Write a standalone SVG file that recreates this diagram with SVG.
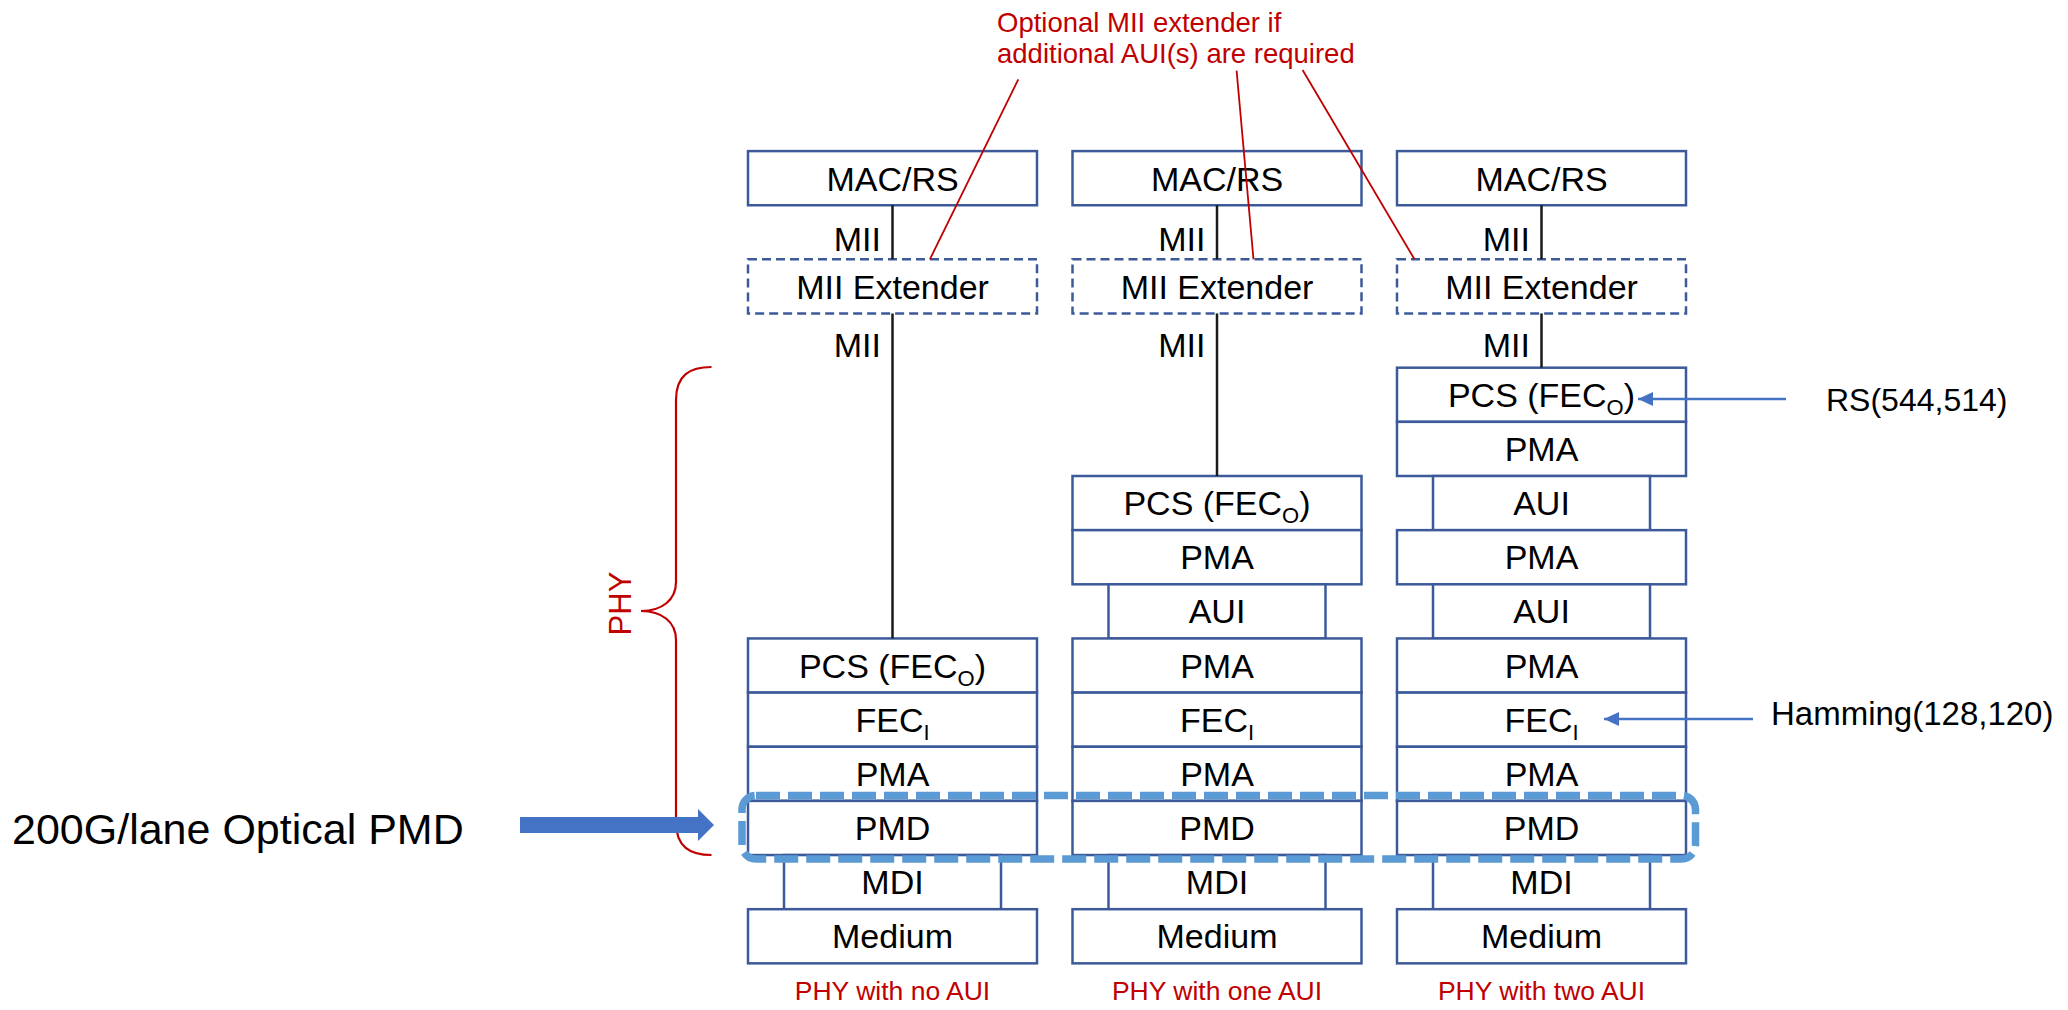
<svg xmlns="http://www.w3.org/2000/svg" width="2068" height="1010" viewBox="0 0 2068 1010">
<style>
.box{fill:#fff;stroke:#3C5A9A;stroke-width:2.5}
.dbox{fill:#fff;stroke:#3C5A9A;stroke-width:2.5;stroke-dasharray:9 5}
.t{font-family:"Liberation Sans",Arial,sans-serif;font-size:34px;text-anchor:middle;fill:#000}
.mii{font-family:"Liberation Sans",Arial,sans-serif;font-size:34px;text-anchor:end;fill:#000}
.sub{font-size:22px}
.red{font-family:"Liberation Sans",Arial,sans-serif;fill:#C00000}
.callout{font-size:27.5px}
.phy{font-size:31px;text-anchor:middle}
.cap{font-size:26.5px;text-anchor:middle}
.conn{stroke:#1a1a1a;stroke-width:2.5;fill:none}
.lead{stroke:#C00000;stroke-width:1.8;fill:none}
.barrow{stroke:#4472C4;stroke-width:2.5;fill:none;marker-end:url(#ah)}
.note{font-family:"Liberation Sans",Arial,sans-serif;fill:#000}
.big{font-size:43px}
.rs{font-size:32px}
.ham{font-size:33px}
</style>
<defs>
<marker id="ah" markerUnits="userSpaceOnUse" markerWidth="16" markerHeight="14" refX="15" refY="7" orient="auto">
<path d="M0,0 L15,7 L0,14 z" fill="#4472C4"/>
</marker>
</defs>

<g id="callout-text">
<text class="red callout" x="997" y="32">Optional MII extender if</text>
<text class="red callout" x="997" y="63">additional AUI(s) are required</text>
</g>

<g id="mii-labels">
<text class="mii" x="881" y="251">MII</text>
<text class="mii" x="881" y="357">MII</text>
<text class="mii" x="1205.5" y="251">MII</text>
<text class="mii" x="1205.5" y="357">MII</text>
<text class="mii" x="1530" y="251">MII</text>
<text class="mii" x="1530" y="357">MII</text>
</g>

<!-- Column 1: PHY with no AUI -->
<g id="c1-macrs"><rect class="box" x="748" y="151.1" width="289" height="54.15"/><text class="t" x="892.5" y="191.2">MAC/RS</text></g>
<g id="c1-miiext"><rect class="dbox" x="748" y="259.3" width="289" height="54.15"/><text class="t" x="892.5" y="299.4">MII Extender</text></g>
<g id="c1-pcs"><rect class="box" x="748" y="638.45" width="289" height="54.15"/><text class="t" x="892.5" y="677.5">PCS (FEC<tspan class="sub" dy="8">O</tspan><tspan dy="-8">)</tspan></text></g>
<g id="c1-feci"><rect class="box" x="748" y="692.6" width="289" height="54.15"/><text class="t" x="892.5" y="731.7">FEC<tspan class="sub" dy="8">I</tspan></text></g>
<g id="c1-pma"><rect class="box" x="748" y="746.75" width="289" height="54.15"/><text class="t" x="892.5" y="785.8">PMA</text></g>
<g id="c1-pmd"><rect class="box" x="748" y="800.9" width="289" height="54.15"/><text class="t" x="892.5" y="840">PMD</text></g>
<g id="c1-mdi"><rect class="box" x="784" y="855.05" width="217" height="54.15"/><text class="t" x="892.5" y="894.1">MDI</text></g>
<g id="c1-medium"><rect class="box" x="748" y="909.2" width="289" height="54.15"/><text class="t" x="892.5" y="948.3">Medium</text></g>
<text class="red cap" x="892.5" y="1000">PHY with no AUI</text>

<!-- Column 2: PHY with one AUI -->
<g id="c2-macrs"><rect class="box" x="1072.5" y="151.1" width="289" height="54.15"/><text class="t" x="1217" y="191.2">MAC/RS</text></g>
<g id="c2-miiext"><rect class="dbox" x="1072.5" y="259.3" width="289" height="54.15"/><text class="t" x="1217" y="299.4">MII Extender</text></g>
<g id="c2-pcs"><rect class="box" x="1072.5" y="476" width="289" height="54.15"/><text class="t" x="1217" y="515.1">PCS (FEC<tspan class="sub" dy="8">O</tspan><tspan dy="-8">)</tspan></text></g>
<g id="c2-pma1"><rect class="box" x="1072.5" y="530.15" width="289" height="54.15"/><text class="t" x="1217" y="569.2">PMA</text></g>
<g id="c2-aui"><rect class="box" x="1108.5" y="584.3" width="217" height="54.15"/><text class="t" x="1217" y="623.4">AUI</text></g>
<g id="c2-pma2"><rect class="box" x="1072.5" y="638.45" width="289" height="54.15"/><text class="t" x="1217" y="677.5">PMA</text></g>
<g id="c2-feci"><rect class="box" x="1072.5" y="692.6" width="289" height="54.15"/><text class="t" x="1217" y="731.7">FEC<tspan class="sub" dy="8">I</tspan></text></g>
<g id="c2-pma3"><rect class="box" x="1072.5" y="746.75" width="289" height="54.15"/><text class="t" x="1217" y="785.8">PMA</text></g>
<g id="c2-pmd"><rect class="box" x="1072.5" y="800.9" width="289" height="54.15"/><text class="t" x="1217" y="840">PMD</text></g>
<g id="c2-mdi"><rect class="box" x="1108.5" y="855.05" width="217" height="54.15"/><text class="t" x="1217" y="894.1">MDI</text></g>
<g id="c2-medium"><rect class="box" x="1072.5" y="909.2" width="289" height="54.15"/><text class="t" x="1217" y="948.3">Medium</text></g>
<text class="red cap" x="1217" y="1000">PHY with one AUI</text>

<!-- Column 3: PHY with two AUI -->
<g id="c3-macrs"><rect class="box" x="1397" y="151.1" width="289" height="54.15"/><text class="t" x="1541.5" y="191.2">MAC/RS</text></g>
<g id="c3-miiext"><rect class="dbox" x="1397" y="259.3" width="289" height="54.15"/><text class="t" x="1541.5" y="299.4">MII Extender</text></g>
<g id="c3-pcs"><rect class="box" x="1397" y="367.7" width="289" height="54.15"/><text class="t" x="1541.5" y="406.8">PCS (FEC<tspan class="sub" dy="8">O</tspan><tspan dy="-8">)</tspan></text></g>
<g id="c3-pma1"><rect class="box" x="1397" y="421.85" width="289" height="54.15"/><text class="t" x="1541.5" y="460.9">PMA</text></g>
<g id="c3-aui1"><rect class="box" x="1433" y="476" width="217" height="54.15"/><text class="t" x="1541.5" y="515.1">AUI</text></g>
<g id="c3-pma2"><rect class="box" x="1397" y="530.15" width="289" height="54.15"/><text class="t" x="1541.5" y="569.2">PMA</text></g>
<g id="c3-aui2"><rect class="box" x="1433" y="584.3" width="217" height="54.15"/><text class="t" x="1541.5" y="623.4">AUI</text></g>
<g id="c3-pma3"><rect class="box" x="1397" y="638.45" width="289" height="54.15"/><text class="t" x="1541.5" y="677.5">PMA</text></g>
<g id="c3-feci"><rect class="box" x="1397" y="692.6" width="289" height="54.15"/><text class="t" x="1541.5" y="731.7">FEC<tspan class="sub" dy="8">I</tspan></text></g>
<g id="c3-pma4"><rect class="box" x="1397" y="746.75" width="289" height="54.15"/><text class="t" x="1541.5" y="785.8">PMA</text></g>
<g id="c3-pmd"><rect class="box" x="1397" y="800.9" width="289" height="54.15"/><text class="t" x="1541.5" y="840">PMD</text></g>
<g id="c3-mdi"><rect class="box" x="1433" y="855.05" width="217" height="54.15"/><text class="t" x="1541.5" y="894.1">MDI</text></g>
<g id="c3-medium"><rect class="box" x="1397" y="909.2" width="289" height="54.15"/><text class="t" x="1541.5" y="948.3">Medium</text></g>
<text class="red cap" x="1541.5" y="1000">PHY with two AUI</text>

<g id="phy-brace">
<path d="M711.5,367 C690,367 676,375 676,400 L676,582 C676,600 662,611 641,611 C662,611 676,622 676,640 L676,822 C676,847 690,855 711.5,855" fill="none" stroke="#C00000" stroke-width="2.2"/>
<text class="red phy" transform="translate(631,603.5) rotate(-90)">PHY</text>
</g>

<g id="pmd-highlight">
<rect x="742" y="795.5" width="953.5" height="63.5" rx="14" fill="none" stroke="#5B9BD5" stroke-width="7.5" stroke-dasharray="24 8"/>
</g>

<g id="notes">
<text class="note big" x="12" y="843.6">200G/lane Optical PMD</text>
<text class="note rs" x="1826" y="410.7">RS(544,514)</text>
<text class="note ham" x="1771" y="725">Hamming(128,120)</text>
</g>

<g id="connectors">
<line class="conn" x1="892.5" y1="205.25" x2="892.5" y2="259.3"/>
<line class="conn" x1="892.5" y1="313.45" x2="892.5" y2="638.45"/>
<line class="conn" x1="1217" y1="205.25" x2="1217" y2="259.3"/>
<line class="conn" x1="1217" y1="313.45" x2="1217" y2="476"/>
<line class="conn" x1="1541.5" y1="205.25" x2="1541.5" y2="259.3"/>
<line class="conn" x1="1541.5" y1="313.45" x2="1541.5" y2="367.7"/>
<line class="lead" x1="1018.3" y1="79.3" x2="929.9" y2="259.3"/>
<line class="lead" x1="1236.6" y1="70.7" x2="1253.5" y2="259.3"/>
<line class="lead" x1="1302.6" y1="70" x2="1414.5" y2="259.3"/>
<line class="barrow" x1="1786" y1="399" x2="1638" y2="399"/>
<line class="barrow" x1="1753" y1="719" x2="1604" y2="719"/>
<polygon points="520,817 698,817 698,809 714,825 698,841 698,833 520,833" fill="#4472C4"/>
</g>
</svg>
